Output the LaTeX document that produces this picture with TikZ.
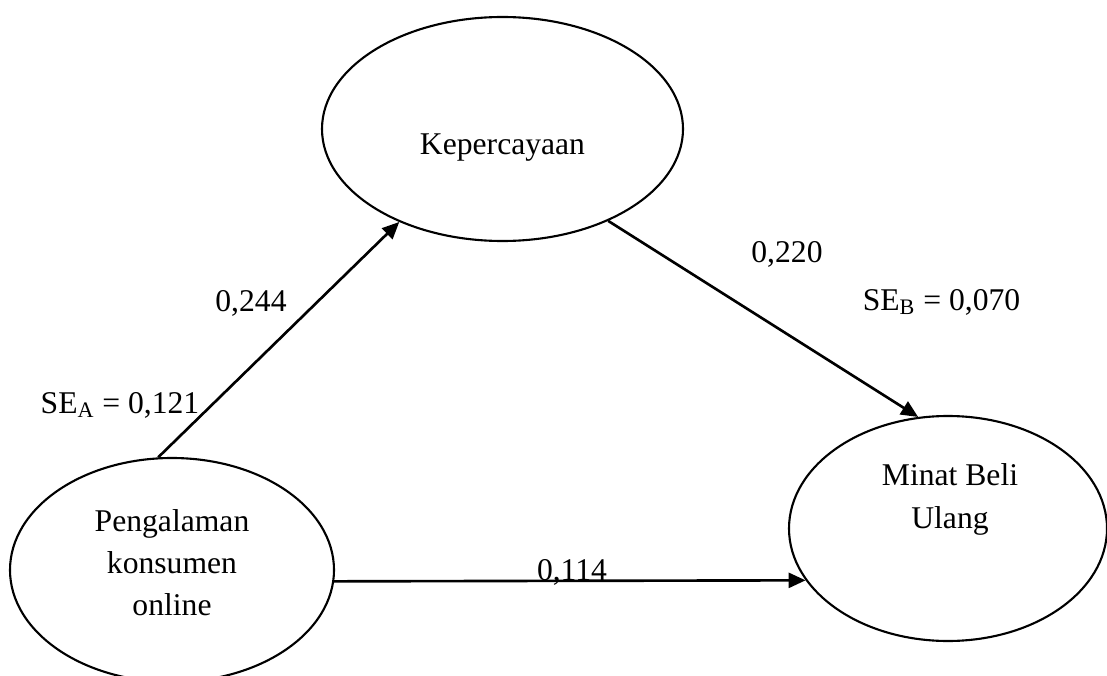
\documentclass[tikz,border=0pt]{standalone}
\usepackage{fontspec}
\setmainfont{Liberation Serif}
\usetikzlibrary{shapes.geometric, arrows.meta, positioning}

\begin{document}
\begin{tikzpicture}[
    latent/.style={draw, ellipse, line width=1.2pt, inner sep=0pt},
    txt/.style={align=center, font=\fontsize{18}{24}\selectfont},
    coef/.style={font=\fontsize{18}{22}\selectfont, inner sep=0pt},
    arr/.style={-{Triangle[length=0.34cm, width=0.3cm]}, line width=1.5pt},
]
\useasboundingbox (0,0) rectangle (22.14,13.5);

% Nodes
\node[latent, minimum width=7.22cm, minimum height=4.48cm] (kep) at (10.05,10.92) {};
\node[latent, minimum width=6.48cm, minimum height=4.48cm] (peng) at (3.44,2.10) {};
\node[latent, minimum width=6.36cm, minimum height=4.5cm] (minat) at (18.96,2.93) {};

\node[txt] (kepText) at ([yshift=-0.38cm]kep.center) {Kepercayaan};
\node[txt] (pengText) at ([yshift=0.14cm]peng.center) {Pengalaman\\konsumen\\online};
\node[txt] (minatText) at ([xshift=0.04cm, yshift=0.58cm]minat.center) {Minat Beli\\Ulang};

% Arrows
\draw[arr] (peng.97) -- (kep.222);
\draw[arr] (kep.319) -- (minat.105);
\draw[arr] (peng.-4) -- (minat.200);

% Labels
\node[coef] (b244) at (5.02,7.44) {0,244};
\node[coef] (seA) at (2.40,5.40) {SE\textsubscript{A} = 0,121};
\node[coef] (b220) at (15.74,8.42) {0,220};
\node[coef] (seB) at (18.83,7.46) {SE\textsubscript{B} = 0,070};
\node[coef] (b114) at (11.44,2.06) {0,114};

\end{tikzpicture}
\end{document}
